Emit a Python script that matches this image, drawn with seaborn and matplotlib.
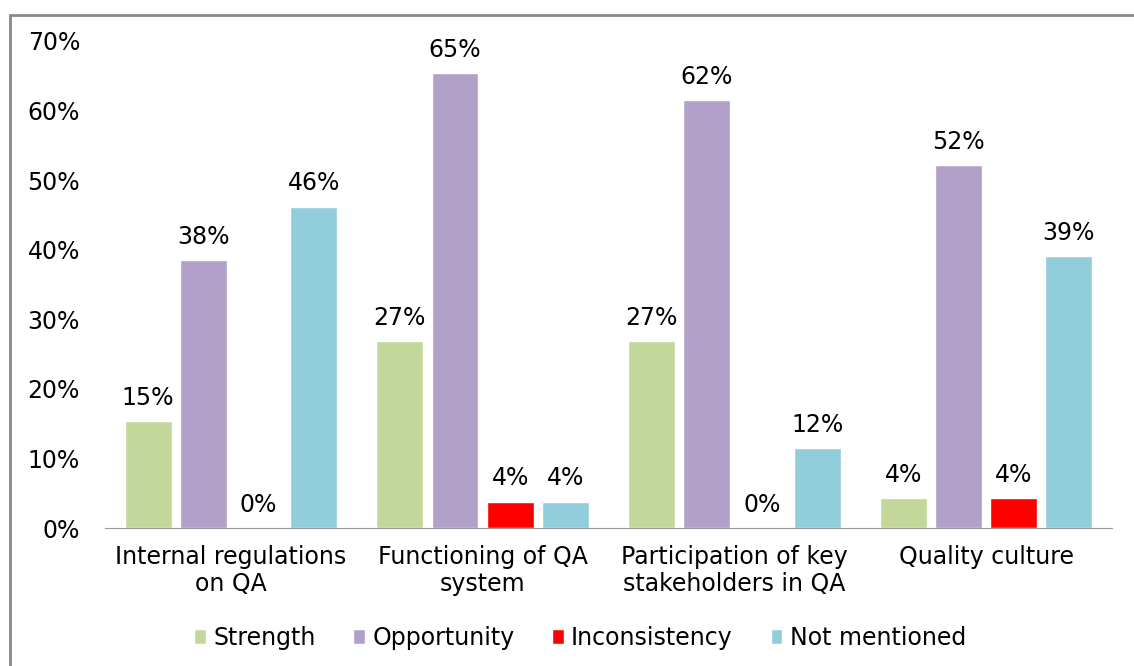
import matplotlib
matplotlib.use("Agg")
import matplotlib.pyplot as plt
import matplotlib.patches as mpatches
import pandas as pd
import seaborn as sns

# --- Data ---
categories = ["Internal regulations\non QA", "Functioning of QA\nsystem",
              "Participation of key\nstakeholders in QA", "Quality culture"]
series = ["Strength", "Opportunity", "Inconsistency", "Not mentioned"]
strength = [15.4, 26.9, 26.9, 4.3]
opportunity = [38.5, 65.4, 61.5, 52.2]
inconsistency = [0.0, 3.8, 0.0, 4.3]
not_mentioned = [46.2, 3.8, 11.5, 39.1]
colors = ["#C4D79B", "#B1A0C7", "#FF0000", "#92CDDC"]

df = pd.DataFrame({
    "category": categories * 4,
    "series": [s for s in series for _ in categories],
    "value": strength + opportunity + inconsistency + not_mentioned,
})

# --- Plot ---
sns.set_style("white")
plt.rcParams["font.family"] = ["DejaVu Sans"]
plt.rcParams["text.color"] = "#000000"
plt.rcParams["xtick.color"] = "#000000"
plt.rcParams["ytick.color"] = "#000000"

fs = 17
fig = plt.figure(figsize=(11.34, 6.66), dpi=100)
ax = fig.add_axes([105 / 1134, 1 - 528 / 666, (1112 - 105) / 1134, (528 - 41) / 666])

sns.barplot(data=df, x="category", y="value", hue="series", palette=colors,
            width=0.877, gap=0.15, ax=ax, legend=True, saturation=1)

for cont in ax.containers:
    ax.bar_label(cont, labels=[f"{v:.0f}%" for v in cont.datavalues],
                 padding=8, fontsize=fs, color="#000000")

ax.set_ylim(0, 70)
ax.set_xlim(-0.5, 3.5)
ax.set_yticks(range(0, 71, 10))
ax.set_yticklabels([f"{t}%" for t in range(0, 71, 10)], fontsize=fs)
ax.tick_params(axis="x", labelsize=fs, length=0, pad=12)
ax.tick_params(axis="y", length=0, pad=18)
ax.set_xlabel("")
ax.set_ylabel("")
for side in ["top", "right", "left"]:
    ax.spines[side].set_visible(False)
ax.spines["bottom"].set_color("#999999")

handles, labels = ax.get_legend_handles_labels()
ax.legend(handles, labels, loc="center", bbox_to_anchor=(580 / 1134, 1 - 638 / 666),
          bbox_transform=fig.transFigure,
          ncol=4, frameon=False, fontsize=fs, handlelength=0.5,
          handleheight=0.6, handletextpad=0.3, columnspacing=1.6)

# chart-area border (extends past right/bottom edges, as in the original)
border = mpatches.Rectangle((10 / 1134, -0.05), 1.2, 1 - 15 / 666 + 0.05,
                            transform=fig.transFigure, fill=False,
                            edgecolor="#888888", linewidth=2)
fig.patches.append(border)

fig.savefig("out.png", dpi=100)
